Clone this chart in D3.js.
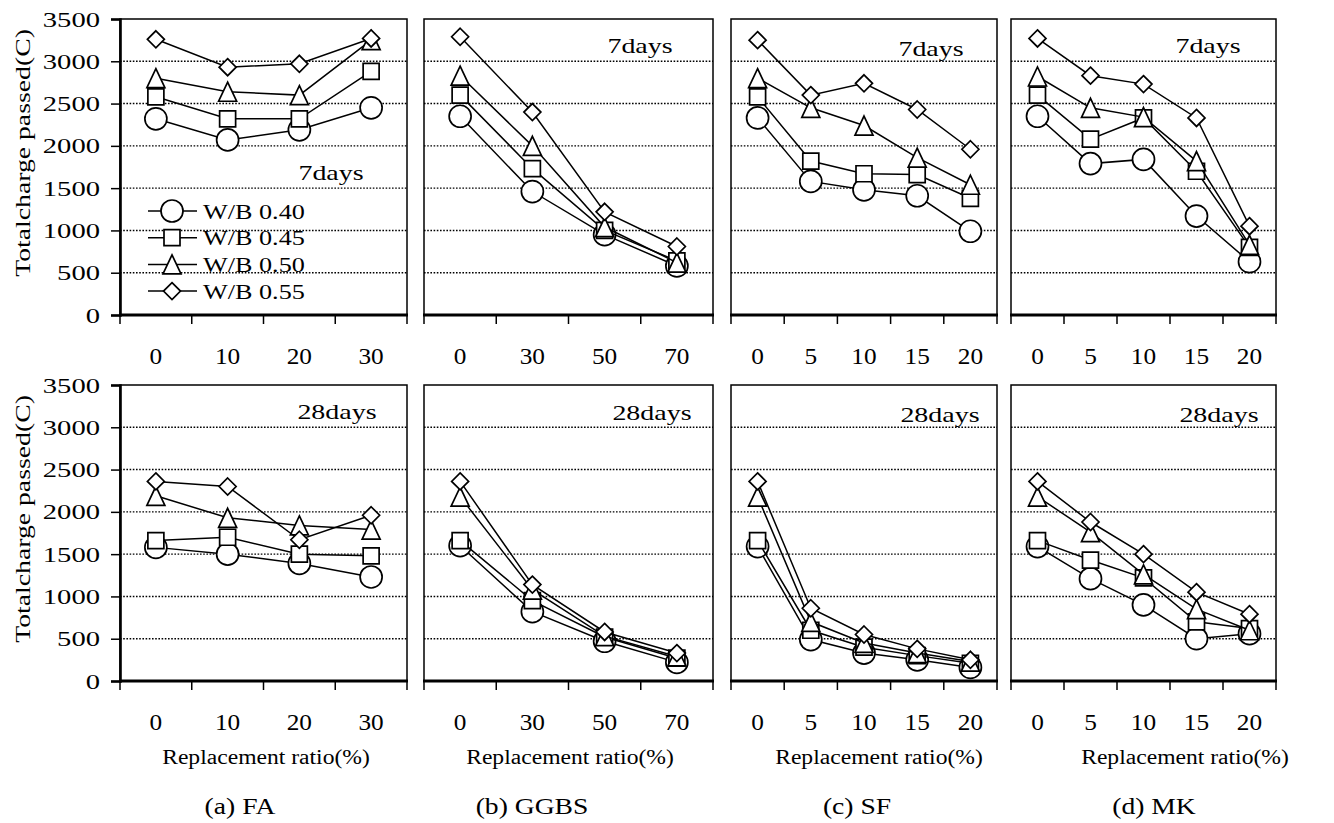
<!DOCTYPE html>
<html>
<head>
<meta charset="utf-8">
<script src="https://cdn.jsdelivr.net/npm/d3@7"></script>
<style>
  body { margin: 0; background: #fff; }
  text { font-family: "Liberation Serif", "Times New Roman", serif; fill: #000; }
</style>
</head>
<body>
<script>

// replacement ratios (%) for each binder
var faRatio = ["0", "10", "20", "30"];
var ggbsRatio = ["0", "30", "50", "70"];
var sfRatio = ["0", "5", "10", "15", "20"];
var mkRatio = ["0", "5", "10", "15", "20"];

var wbLabels = ["W/B 0.40", "W/B 0.45", "W/B 0.50", "W/B 0.55"];
var yTicks = [0, 500, 1000, 1500, 2000, 2500, 3000, 3500];

// total charge passed (C), one row per W/B ratio (0.40, 0.45, 0.50, 0.55)
var fa7 = [
    [2320, 2070, 2190, 2450],
    [2580, 2320, 2320, 2880],
    [2800, 2640, 2600, 3250],
    [3260, 2930, 2970, 3270]
];
var ggbs7 = [
    [2350, 1460, 950, 580],
    [2600, 1730, 1000, 640],
    [2830, 2000, 1040, 620],
    [3290, 2400, 1220, 810]
];
var sf7 = [
    [2330, 1580, 1480, 1410, 990],
    [2580, 1820, 1670, 1660, 1380],
    [2800, 2450, 2240, 1860, 1540],
    [3250, 2600, 2740, 2430, 1960]
];
var mk7 = [
    [2350, 1790, 1840, 1170, 630],
    [2600, 2080, 2330, 1700, 800],
    [2820, 2450, 2340, 1820, 830],
    [3270, 2830, 2730, 2330, 1050]
];
var fa28 = [
    [1580, 1500, 1390, 1230],
    [1660, 1700, 1500, 1480],
    [2190, 1930, 1840, 1790],
    [2360, 2300, 1670, 1960]
];
var ggbs28 = [
    [1600, 820, 470, 220],
    [1660, 950, 520, 270],
    [2180, 1080, 530, 290],
    [2360, 1140, 580, 330]
];
var sf28 = [
    [1590, 490, 330, 250, 160],
    [1660, 600, 400, 300, 210],
    [2180, 700, 450, 330, 230],
    [2360, 860, 550, 380, 250]
];
var mk28 = [
    [1590, 1210, 900, 500, 560],
    [1660, 1430, 1220, 700, 620],
    [2180, 1760, 1260, 850, 600],
    [2360, 1880, 1500, 1050, 790]
];

var captions = ["(a) FA", "(b) GGBS", "(c) SF", "(d) MK"];
var ages = ["7days", "28days"];

// layout
var canvasX = 1334;
var canvasY = 823;
var rows = [{top: 19, bottom: 315}, {top: 385, bottom: 681}];
var cols = [
    {left: 120, right: 407, caption: 240, title: 266},
    {left: 424, right: 713, caption: 532, title: 570},
    {left: 731, right: 997, caption: 857, title: 879},
    {left: 1011, right: 1276, caption: 1154, title: 1185}
];
var ageLabelPos = [
    [[331, 172], [640, 45], [931, 48], [1208, 45]],
    [[337, 411], [652, 412], [940, 414], [1219, 414]]
];

var ratios = [faRatio, ggbsRatio, sfRatio, mkRatio];
var values = [[fa7, ggbs7, sf7, mk7], [fa28, ggbs28, sf28, mk28]];

var svg = d3.select("body").append("svg")
    .attr("width", canvasX)
    .attr("height", canvasY);

svg.append("rect").attr("width", canvasX).attr("height", canvasY).attr("fill", "#fff");

// widen text like the original (it was stretched horizontally)
function stretch(sel, k) {
    sel.each(function() {
        var w = this.getComputedTextLength();
        d3.select(this).attr("textLength", w * k).attr("lengthAdjust", "spacingAndGlyphs");
    });
}

// marker outlines, Excel style
function markerPath(type) {
    var p = d3.path();
    if (type == 0) {
        p.moveTo(11, 0);
        p.arc(0, 0, 11, 0, 2 * Math.PI);
    } else if (type == 1) {
        p.rect(-8, -8, 16, 16);
    } else if (type == 2) {
        p.moveTo(0, -9.5); p.lineTo(9, 9.5); p.lineTo(-9, 9.5); p.closePath();
    } else {
        p.moveTo(0, -8.5); p.lineTo(8.5, 0); p.lineTo(0, 8.5); p.lineTo(-8.5, 0); p.closePath();
    }
    return p.toString();
}

function drawPanel(r, c) {
    var row = rows[r];
    var col = cols[c];
    var g = svg.append("g");

    var x = d3.scaleBand().domain(ratios[c]).range([col.left, col.right]).padding(0);
    var y = d3.scaleLinear().domain([0, 3500]).range([row.bottom, row.top]);

    // dotted gridlines
    g.selectAll(".grid")
        .data(yTicks.filter(function(d) { return d > 0 && d < 3500; }))
        .enter().append("line")
        .attr("x1", col.left).attr("x2", col.right)
        .attr("y1", function(d) { return y(d); })
        .attr("y2", function(d) { return y(d); })
        .attr("stroke", "#000")
        .attr("stroke-width", 1.4)
        .attr("stroke-dasharray", "1.6,1.6");

    // frame
    g.append("rect")
        .attr("x", col.left).attr("y", row.top)
        .attr("width", col.right - col.left).attr("height", row.bottom - row.top)
        .attr("fill", "none").attr("stroke", "#000").attr("stroke-width", 1.5);

    // y axis only on the first panel
    if (c == 0) {
        var yAxis = g.append("g")
            .attr("transform", "translate(" + col.left + ",0)")
            .call(d3.axisLeft(y).tickValues(yTicks).tickFormat(d3.format("d")).tickSize(9).tickPadding(11));
        yAxis.select(".domain").attr("stroke-width", 2.6);
        yAxis.selectAll(".tick line").attr("stroke-width", 1.5);
        yAxis.selectAll("text")
            .style("font-family", "Liberation Serif, serif")
            .style("font-size", "22px")
            .attr("fill", "#000")
            .call(stretch, 1.3);

        g.append("text")
            .attr("transform", "translate(22," + ((row.top + row.bottom) / 2 - 14) + ") rotate(-90)")
            .attr("text-anchor", "middle")
            .attr("dominant-baseline", "central")
            .style("font-size", "22px")
            .text("Totalcharge passed(C)")
            .call(stretch, 1.26);
    }

    // x axis line and ticks between categories
    g.append("line")
        .attr("x1", col.left - 1).attr("x2", col.right + 1)
        .attr("y1", row.bottom).attr("y2", row.bottom)
        .attr("stroke", "#000").attr("stroke-width", 3);

    var bounds = d3.range(ratios[c].length + 1).map(function(i) { return col.left + i * x.step(); });
    g.selectAll(".xtick")
        .data(bounds)
        .enter().append("line")
        .attr("x1", function(d) { return d; }).attr("x2", function(d) { return d; })
        .attr("y1", row.bottom).attr("y2", row.bottom + 9)
        .attr("stroke", "#000").attr("stroke-width", 1.5);

    g.selectAll(".xlabel")
        .data(ratios[c])
        .enter().append("text")
        .attr("x", function(d) { return x(d) + x.bandwidth() / 2; })
        .attr("y", row.bottom + 41)
        .attr("text-anchor", "middle")
        .attr("dominant-baseline", "central")
        .style("font-size", "23px")
        .text(function(d) { return d; })
        .call(stretch, 1.1);

    // age label
    g.append("text")
        .attr("x", ageLabelPos[r][c][0])
        .attr("y", ageLabelPos[r][c][1])
        .attr("text-anchor", "middle")
        .attr("dominant-baseline", "central")
        .style("font-size", "22px")
        .text(ages[r])
        .call(stretch, 1.27);

    // series: line then markers
    var line = d3.line()
        .x(function(d, i) { return x(ratios[c][i]) + x.bandwidth() / 2; })
        .y(function(d) { return y(d); });

    values[r][c].forEach(function(series, s) {
        g.append("path")
            .attr("d", line(series))
            .attr("fill", "none")
            .attr("stroke", "#000")
            .attr("stroke-width", 1.5);

        g.selectAll(".m" + s)
            .data(series)
            .enter().append("path")
            .attr("d", markerPath(s))
            .attr("transform", function(d, i) {
                return "translate(" + (x(ratios[c][i]) + x.bandwidth() / 2) + "," + y(d) + ")";
            })
            .attr("fill", "#fff")
            .attr("stroke", "#000")
            .attr("stroke-width", 1.7);
    });

    // bottom row gets axis title and caption
    if (r == 1) {
        g.append("text")
            .attr("x", col.title)
            .attr("y", 757)
            .attr("text-anchor", "middle")
            .attr("dominant-baseline", "central")
            .style("font-size", "20px")
            .text("Replacement ratio(%)")
            .call(stretch, 1.18);

        g.append("text")
            .attr("x", col.caption)
            .attr("y", 806)
            .attr("text-anchor", "middle")
            .attr("dominant-baseline", "central")
            .style("font-size", "23px")
            .text(captions[c])
            .call(stretch, 1.2);
    }
}

// legend inside the first panel
function makeLegend() {
    var legend = svg.selectAll(".legend")
        .data(wbLabels)
        .enter().append("g")
        .attr("class", "legend")
        .attr("transform", function(d, i) { return "translate(0," + (211 + i * 26.7) + ")"; });

    legend.append("line")
        .attr("x1", 148).attr("x2", 197)
        .attr("stroke", "#000").attr("stroke-width", 1.5);

    legend.append("path")
        .attr("d", function(d, i) { return markerPath(i); })
        .attr("transform", "translate(172,0)")
        .attr("fill", "#fff").attr("stroke", "#000").attr("stroke-width", 1.7);

    legend.append("text")
        .attr("x", 203)
        .attr("dominant-baseline", "central")
        .style("font-size", "22px")
        .text(function(d) { return d; })
        .call(stretch, 1.19);
}

for (var r = 0; r < rows.length; r++) {
    for (var c = 0; c < cols.length; c++) {
        drawPanel(r, c);
    }
}
makeLegend();

</script>
</body>
</html>
